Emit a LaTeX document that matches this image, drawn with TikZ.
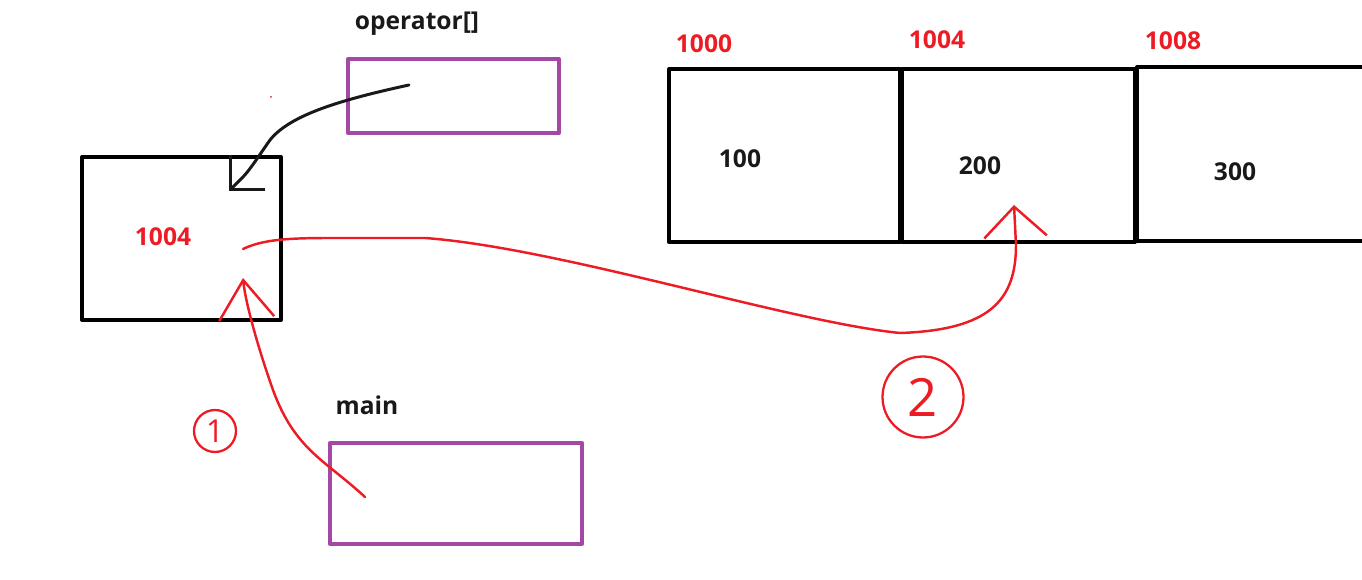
\documentclass[tikz,border=0pt]{standalone}
\usepackage{fontspec}
\setmainfont{Open Sans}
\usetikzlibrary{arrows.meta}
\definecolor{penred}{RGB}{237,28,36}
\definecolor{framepurple}{RGB}{163,73,164}
\definecolor{inkblack}{RGB}{25,25,25}

\begin{document}
\begin{tikzpicture}[x=0.02cm,y=-0.02cm,line cap=round,line join=round]
\tikzset{lab/.style={font=\fontsize{14}{16}\selectfont\bfseries,inner sep=0pt,text=inkblack}, addr/.style={lab,text=penred}, cell/.style={draw=black,line width=2.3pt,inner sep=0pt}, frame/.style={draw=framepurple,line width=2.3pt,inner sep=0pt}, stroke/.style={penred,line width=1.4pt}, circnum/.style={circle,draw=penred,line width=1.3pt,text=penred,inner sep=0pt}}
\useasboundingbox (0,0) rectangle (1362,580);

\node[cell,minimum width=3.98cm,minimum height=3.26cm] (ptr) at (181.5,238.5) {};
\node[addr] (ptrval) at (163,237) {1004};

\node[lab] (oplab) at (417,24) {operator[]};
\node[frame,minimum width=4.22cm,minimum height=1.48cm] (op) at (453.5,96) {};
\node[lab] (mainlab) at (367,405) {main};
\node[frame,minimum width=5.04cm,minimum height=2.02cm] (main) at (456,493.5) {};

\node[cell,minimum width=4.62cm,minimum height=3.46cm] (cellA) at (784.5,155.5) {};
\node[cell,minimum width=4.66cm,minimum height=3.46cm] (cellB) at (1018.5,155.5) {};
\node[cell,minimum width=5.3cm,minimum height=3.48cm] (cellC) at (1269.5,154) {};
\node[addr] (addrA) at (704,44) {1000};
\node[addr] (addrB) at (937,40) {1004};
\node[addr] (addrC) at (1173,41) {1008};
\node[lab] (valA) at (740,159) {100};
\node[lab] (valB) at (980,166) {200};
\node[lab] (valC) at (1235,172) {300};

\coordinate (opstart) at (409,85);
\coordinate (ptrtip) at (229,191);
\coordinate (mainstart) at (365,497);
\coordinate (ptrhit) at (243,278);
\coordinate (ptrstart) at (243,249);
\coordinate (celltip) at (1014,205);

\draw[inkblack,line width=1.7pt,-{Straight Barb[angle=90:0.7cm]}] (opstart) .. controls (340,100) and (290,115) .. (270,140) .. controls (258,157) and (250,170) .. (242,178) -- (ptrtip);
\draw[stroke,-{Straight Barb[angle=71:0.95cm]}] (mainstart) .. controls (325,460) and (295,450) .. (273,390) .. controls (257,345) and (245,300) .. (ptrhit);
\draw[stroke,-{Straight Barb[angle=92:0.87cm]}] (ptrstart) .. controls (262,240) and (285,238) .. (330,238) -- (425,238) .. controls (560,248) and (790,322) .. (900,333) .. controls (990,330) and (1016,300) .. (1016,245) -- (celltip);

\node[circnum,minimum size=0.84cm,font=\fontsize{18}{20}\selectfont] (one) at (215,431) {1};
\node[circnum,minimum size=1.62cm,font=\fontsize{30}{32}\selectfont] (two) at (923,397) {2};
\fill[penred] (271,97) circle (1);
\end{tikzpicture}
\end{document}
